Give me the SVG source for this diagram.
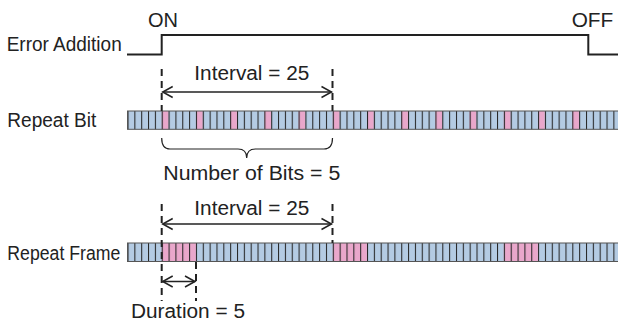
<svg xmlns="http://www.w3.org/2000/svg" width="618" height="321" viewBox="0 0 618 321">
  <defs>
    <pattern id="cells" patternUnits="userSpaceOnUse" x="127.5" y="0" width="6.843" height="321">
      <line x1="0.5" y1="0" x2="0.5" y2="321" stroke="#262626" stroke-width="1.1"/>
    </pattern>
    <marker id="ah" markerUnits="userSpaceOnUse" markerWidth="14" markerHeight="14" refX="11" refY="7" orient="auto-start-reverse" viewBox="0 0 14 14">
      <polyline points="1,1.5 11,7 1,12.5" fill="none" stroke="#222" stroke-width="1.5"/>
    </marker>
    <style>
      text { font-family: "Liberation Sans", Arial, sans-serif; font-size: 20px; fill: #222; }
      .sig { fill: none; stroke: #222; stroke-width: 2; }
      .dash { fill: none; stroke: #222; stroke-width: 2; stroke-dasharray: 7 5; }
      .arr { fill: none; stroke: #222; stroke-width: 1.5; marker-start: url(#ah); marker-end: url(#ah); }
      .blue { fill: #b4cbe3; }
      .pink { fill: #e9a7cb; }
      .grid { fill: url(#cells); }
      .edge { fill: none; stroke: #555; stroke-width: 1; }
    </style>
  </defs>

  <g id="error-addition">
    <text x="6.7" y="51" textLength="115" lengthAdjust="spacingAndGlyphs">Error Addition</text>
    <text x="148" y="26.5" textLength="30" lengthAdjust="spacingAndGlyphs">ON</text>
    <text x="571.7" y="26.5" textLength="41.6" lengthAdjust="spacingAndGlyphs">OFF</text>
    <path class="sig" d="M127 54.5 H161.7 V35 H588.3 V54.5 H620"/>
  </g>

  <g id="repeat-bit">
    <text x="7.3" y="127.3" textLength="89" lengthAdjust="spacingAndGlyphs">Repeat Bit</text>
    <rect class="blue" x="127.5" y="111" width="495" height="18.3"/>
    <rect class="pink" x="161.7" y="111" width="6.84" height="18.3"/>
    <rect class="pink" x="195.9" y="111" width="6.84" height="18.3"/>
    <rect class="pink" x="230.1" y="111" width="6.84" height="18.3"/>
    <rect class="pink" x="264.3" y="111" width="6.84" height="18.3"/>
    <rect class="pink" x="298.5" y="111" width="6.84" height="18.3"/>
    <rect class="pink" x="332.7" y="111" width="6.84" height="18.3"/>
    <rect class="pink" x="366.9" y="111" width="6.84" height="18.3"/>
    <rect class="pink" x="401.1" y="111" width="6.84" height="18.3"/>
    <rect class="pink" x="435.3" y="111" width="6.84" height="18.3"/>
    <rect class="pink" x="469.5" y="111" width="6.84" height="18.3"/>
    <rect class="pink" x="503.7" y="111" width="6.84" height="18.3"/>
    <rect class="pink" x="537.9" y="111" width="6.84" height="18.3"/>
    <rect class="pink" x="572.1" y="111" width="6.84" height="18.3"/>
    <rect class="grid" x="127.5" y="111" width="495" height="18.3"/>
    <rect class="edge" x="127.5" y="111" width="495" height="18.3"/>
  </g>

  <g id="repeat-frame">
    <text x="7.3" y="260" textLength="113" lengthAdjust="spacingAndGlyphs">Repeat Frame</text>
    <rect class="blue" x="127.5" y="243" width="495" height="18.5"/>
    <rect class="pink" x="161.7" y="243" width="34.2" height="18.5"/>
    <rect class="pink" x="332.7" y="243" width="34.2" height="18.5"/>
    <rect class="pink" x="503.7" y="243" width="34.2" height="18.5"/>
    <rect class="grid" x="127.5" y="243" width="495" height="18.5"/>
    <rect class="edge" x="127.5" y="243" width="495" height="18.5"/>
  </g>

  <g id="labels">
    <text x="194.3" y="80" textLength="115" lengthAdjust="spacingAndGlyphs">Interval = 25</text>
    <text x="163.3" y="180" textLength="177" lengthAdjust="spacingAndGlyphs">Number of Bits = 5</text>
    <text x="194.3" y="215" textLength="115" lengthAdjust="spacingAndGlyphs">Interval = 25</text>
    <text x="131" y="318" textLength="114" lengthAdjust="spacingAndGlyphs">Duration = 5</text>
  </g>

  <g id="connectors">
    <line class="dash" x1="161.7" y1="69" x2="161.7" y2="111"/>
    <line class="dash" x1="332.5" y1="69" x2="332.5" y2="111"/>
    <line class="arr" x1="162.7" y1="92" x2="331.5" y2="92"/>
    <path fill="none" stroke="#222" stroke-width="1.2" d="M161.7 138 Q161.7 149 170 149 H238 Q246.7 149 246.7 158 Q246.7 149 255.4 149 H324 Q332.5 149 332.5 138"/>
    <line class="dash" x1="161.7" y1="204" x2="161.7" y2="301"/>
    <line class="dash" x1="332.5" y1="204" x2="332.5" y2="243"/>
    <line class="dash" x1="196" y1="262" x2="196" y2="301"/>
    <line class="arr" x1="162.7" y1="224" x2="331.5" y2="224"/>
    <line class="arr" x1="162.7" y1="281.5" x2="195" y2="281.5"/>
  </g>
</svg>
